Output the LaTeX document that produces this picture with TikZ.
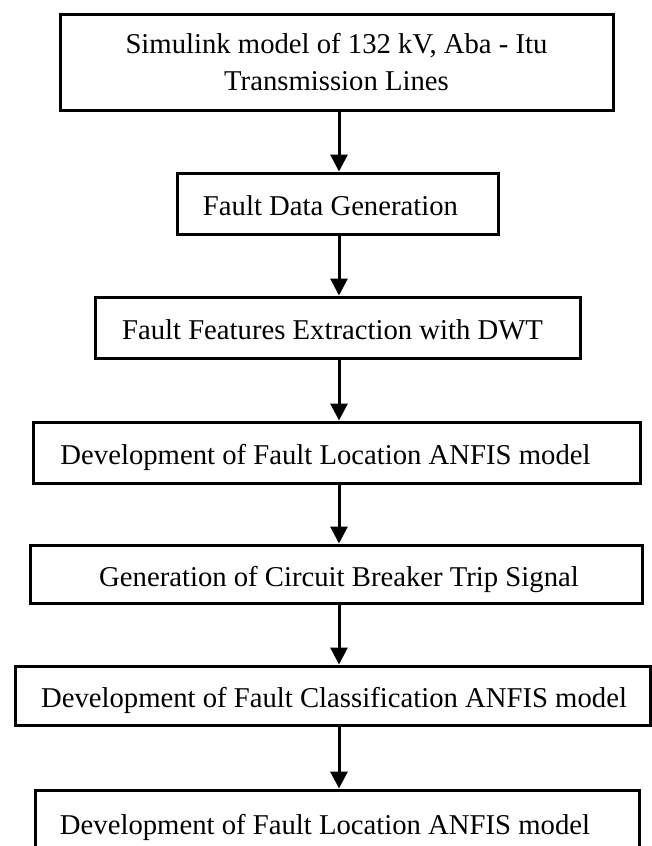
\documentclass[tikz,border=0pt]{standalone}
\usepackage{fontspec}
\setmainfont{Liberation Serif}
\usetikzlibrary{arrows.meta}
\tikzset{
  stage/.style={draw=black, line width=3pt, rectangle, inner sep=0pt,
    font=\fontsize{28.7}{37}\selectfont, align=center, text=black},
  oneline/.style={stage, text height=24pt, text depth=0pt},
  flow/.style={line width=3pt, -{Triangle[width=17pt,length=17pt]}}
}
\begin{document}
\begin{tikzpicture}[x=1pt,y=-1pt]
\clip (0,0) rectangle (652,846);
\fill[white] (0,0) rectangle (652,846);
\coordinate (ax) at (339,0);

\node[stage, minimum width=553pt, minimum height=96pt] (b1) at (336.5,62)
  {Simulink model of 132 kV, Aba - Itu\\Transmission Lines};
\node[oneline, minimum width=321pt, minimum height=61pt] (b2) at (337.5,203.5)
  {Fault Data Generation\hspace*{14pt}};
\node[oneline, minimum width=485pt, minimum height=61pt] (b3) at (337.5,327.5)
  {Fault Features Extraction with DWT\hspace*{10pt}};
\node[oneline, minimum width=607pt, minimum height=61pt] (b4) at (336.5,452.5)
  {Development of Fault Location ANFIS model\hspace*{22pt}};
\node[oneline, minimum width=612pt, minimum height=58pt] (b5) at (336,574)
  {\hspace*{6pt}Generation of Circuit Breaker Trip Signal};
\node[oneline, minimum width=635pt, minimum height=59pt] (b6) at (332.5,695.5)
  {\hspace*{3pt}Development of Fault Classification ANFIS model};
\node[oneline, minimum width=604pt, minimum height=64pt] (b7) at (337,822)
  {Development of Fault Location ANFIS model\hspace*{24pt}};

\draw[flow] (b1.south -| ax) -- (b2.north -| ax);
\draw[flow] (b2.south -| ax) -- (b3.north -| ax);
\draw[flow] (b3.south -| ax) -- (b4.north -| ax);
\draw[flow] (b4.south -| ax) -- (b5.north -| ax);
\draw[flow] (b5.south -| ax) -- (b6.north -| ax);
\draw[flow] (b6.south -| ax) -- (b7.north -| ax);
\end{tikzpicture}
\end{document}
